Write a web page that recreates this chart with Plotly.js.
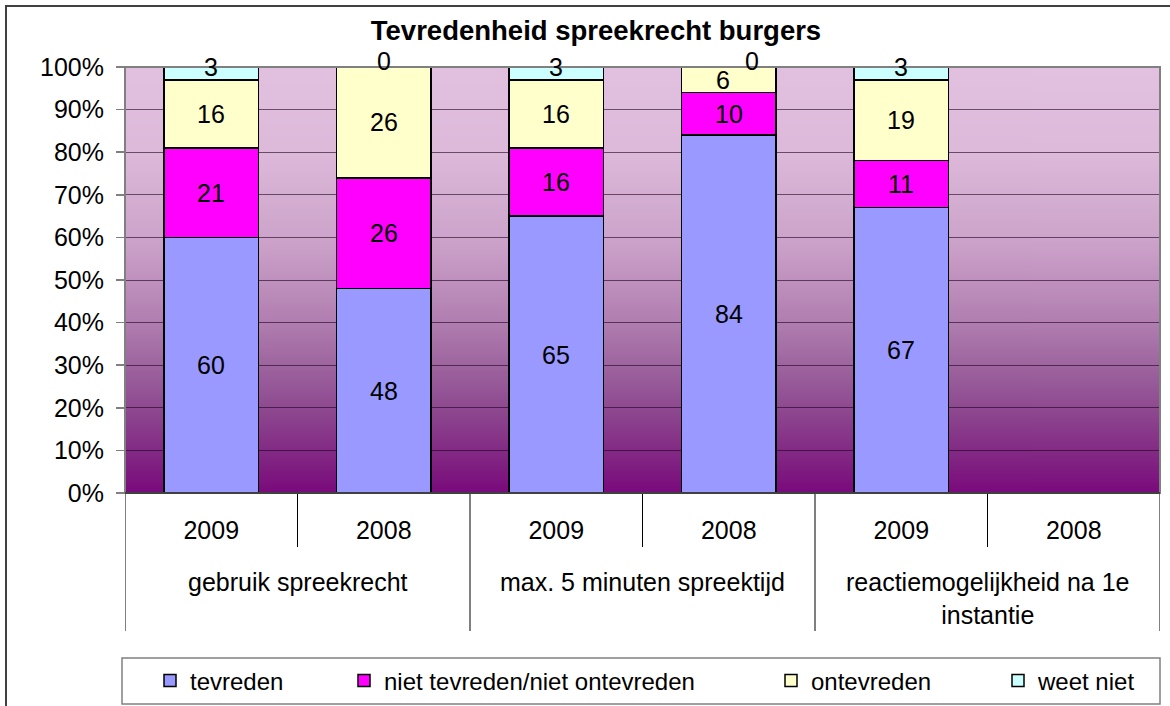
<!DOCTYPE html>
<html>
<head>
<meta charset="utf-8">
<script src="https://cdn.plot.ly/plotly-3.0.1.min.js"></script>
<style>
  html, body { margin: 0; padding: 0; background: #ffffff; }
  #grafico { width: 1170px; height: 706px; }
</style>
</head>
<body>
<div id="grafico"></div>
<script>
// --- data ---
const groepen = ['gebruik spreekrecht', 'max. 5 minuten spreektijd', 'reactiemogelijkheid na 1e<br>instantie'];
const jaren = ['2009', '2008', '2009', '2008', '2009', '2008'];
const reeksen = ['tevreden', 'niet tevreden/niet ontevreden', 'ontevreden', 'weet niet'];
const tevreden = [60, 48, 65, 84, 67, null];
const nietTevredenNietOntevreden = [21, 26, 16, 10, 11, null];
const ontevreden = [16, 26, 16, 6, 19, null];
const weetNiet = [3, 0, 3, 0, 3, null];
const yTicks = [0, 10, 20, 30, 40, 50, 60, 70, 80, 90, 100];
const yTickLabels = ['0%', '10%', '20%', '30%', '40%', '50%', '60%', '70%', '80%', '90%', '100%'];

const kleuren = ['#9999FF', '#FF00FF', '#FFFFCC', '#CCFFFF'];
const lettertype = '"Liberation Sans", Arial, sans-serif';
const fs = 25;

// plot area in pixels
const L = 125, R = 1160, T = 67, B = 493;
const px2x = (X) => (X - L) / (R - L);
const px2y = (Y) => (B - Y) / (B - T);

// gradient background for the plot area
function maakVerloop() {
    const c = document.createElement('canvas');
    c.width = 4; c.height = 400;
    const ctx = c.getContext('2d');
    const g = ctx.createLinearGradient(0, 0, 0, 400);
    g.addColorStop(0.0, '#E2C1E0');
    g.addColorStop(0.2, '#DDB9DA');
    g.addColorStop(0.4, '#CDA4CB');
    g.addColorStop(0.5, '#C091BE');
    g.addColorStop(0.6, '#B07EB0');
    g.addColorStop(0.7, '#9E659F');
    g.addColorStop(0.8, '#8E4A90');
    g.addColorStop(0.9, '#832B85');
    g.addColorStop(1.0, '#7A0A7C');
    ctx.fillStyle = g;
    ctx.fillRect(0, 0, 4, 400);
    return c.toDataURL('image/png');
}

const xs = jaren.map((_, i) => i);
const alleReeksen = [tevreden, nietTevredenNietOntevreden, ontevreden, weetNiet];
const legendBreedtes = [149, 382, 182, 105];

const traces = alleReeksen.map((vals, k) => ({
    type: 'bar',
    x: xs,
    y: vals,
    name: reeksen[k],
    marker: { color: kleuren[k], line: { color: '#000000', width: 1.5 } },
    legendwidth: legendBreedtes[k],
    hoverinfo: 'skip'
}));

// data labels
const annotaties = [];
xs.forEach((xi) => {
    let cum = 0;
    alleReeksen.forEach((vals, k) => {
        const v = vals[xi];
        if (v === null) return;
        let dx = 0, dy = 0;
        if (k === 3) {
            dy = 6;
            if (v === 0 && ontevreden[xi] < 10) dx = 23;
        }
        if (k === 2 && weetNiet[xi] === 0 && v < 10) dx = -6;
        annotaties.push({
            x: xi, y: cum + v / 2, xref: 'x', yref: 'y',
            text: String(v), showarrow: false,
            xshift: dx, yshift: dy,
            font: { family: lettertype, size: fs, color: '#000000' }
        });
        cum += v;
    });
});

// group labels
groepen.forEach((g, i) => {
    annotaties.push({
        x: i * 2 + 0.5, y: px2y(566), xref: 'x', yref: 'paper',
        yanchor: 'top', text: g, showarrow: false,
        font: { family: lettertype, size: fs, color: '#000000' }
    });
});

// separator lines below the axis, plot frame, legend box, chart border
const vormen = [];
for (let k = 0; k <= jaren.length; k++) {
    const lang = (k % 2 === 0);
    vormen.push({
        type: 'line', xref: 'x', yref: 'paper',
        x0: k - 0.5, x1: k - 0.5, y0: 0, y1: px2y(lang ? 631 : 547),
        line: { color: '#000000', width: 1 }
    });
}
vormen.push({
    type: 'rect', xref: 'paper', yref: 'paper', x0: 0, x1: 1, y0: 0, y1: 1,
    line: { color: '#808080', width: 2 }
});
vormen.push({
    type: 'line', xref: 'paper', yref: 'paper', x0: 0, x1: 1, y0: 0, y1: 0,
    line: { color: '#404040', width: 2 }
});
vormen.push({
    type: 'rect', xref: 'paper', yref: 'paper',
    x0: px2x(122), x1: px2x(1160), y0: px2y(658), y1: px2y(704),
    line: { color: '#808080', width: 1.5 }
});
vormen.push({
    type: 'path', xref: 'paper', yref: 'paper',
    path: 'M' + px2x(6) + ',' + px2y(730) + ' L' + px2x(6) + ',' + px2y(6) + ' L' + px2x(1200) + ',' + px2y(6),
    line: { color: '#404040', width: 2 }
});

const layout = {
    width: 1170, height: 706,
    margin: { l: L, r: 1170 - R, t: T, b: 706 - B },
    paper_bgcolor: '#ffffff',
    plot_bgcolor: 'rgba(0,0,0,0)',
    font: { family: lettertype, size: fs, color: '#000000' },
    title: {
        text: '<b>Tevredenheid spreekrecht burgers</b>',
        font: { family: lettertype, size: 27.5, color: '#000000' },
        x: 596 / 1170, xanchor: 'center', xref: 'container',
        y: 1 - 30 / 706, yanchor: 'middle', yref: 'container'
    },
    barmode: 'stack',
    bargap: 0.45,
    showlegend: true,
    legend: {
        orientation: 'h', x: px2x(150), xanchor: 'left', xref: 'paper',
        y: 1 - 681 / 706, yanchor: 'middle', yref: 'container',
        bgcolor: 'rgba(0,0,0,0)', borderwidth: 0,
        font: { family: lettertype, size: 24, color: '#000000' },
        traceorder: 'normal'
    },
    xaxis: {
        range: [-0.5, 5.5], tickvals: xs, ticktext: jaren,
        ticks: '', showgrid: false, zeroline: false, showline: false,
        ticklabelstandoff: 20,
        tickfont: { family: lettertype, size: fs, color: '#000000' },
        fixedrange: true
    },
    yaxis: {
        range: [0, 100], tickmode: 'array', tickvals: yTicks, ticktext: yTickLabels,
        ticks: 'outside', ticklen: 8, tickcolor: '#808080', tickwidth: 1.5,
        showline: false, zeroline: false,
        showgrid: true, gridcolor: 'rgba(30,0,30,0.6)', gridwidth: 1,
        ticklabelstandoff: 7,
        tickfont: { family: lettertype, size: fs, color: '#000000' },
        fixedrange: true
    },
    images: [{
        source: maakVerloop(), xref: 'paper', yref: 'paper',
        x: 0, y: 1, sizex: 1, sizey: 1, sizing: 'stretch',
        xanchor: 'left', yanchor: 'top', layer: 'below'
    }],
    annotations: annotaties,
    shapes: vormen
};

Plotly.newPlot('grafico', traces, layout, { displayModeBar: false, staticPlot: true });
</script>
</body>
</html>
